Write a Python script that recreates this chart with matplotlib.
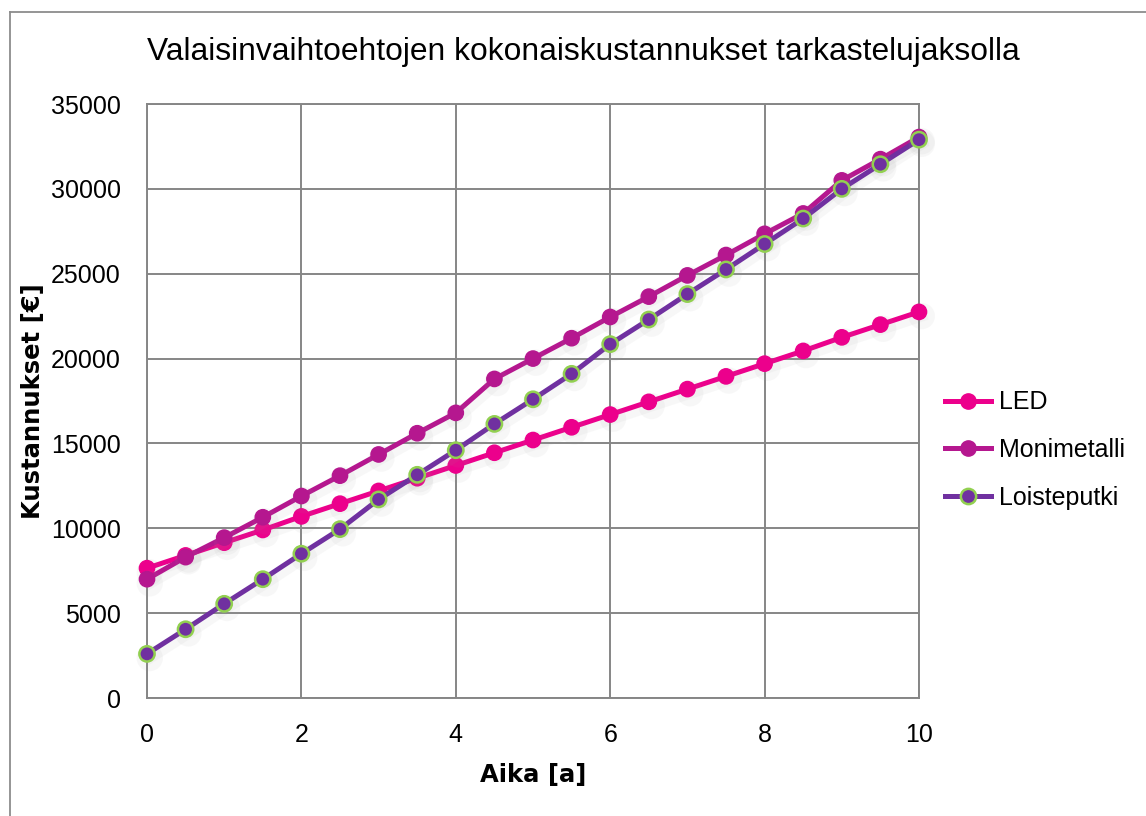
import matplotlib
matplotlib.use("Agg")
import matplotlib.pyplot as plt
import matplotlib.patheffects as pe
from matplotlib.lines import Line2D

plt.rcParams["font.family"] = ["Liberation Sans", "DejaVu Sans"]

# Time in years
aika = [0, 0.5, 1, 1.5, 2, 2.5, 3, 3.5, 4, 4.5, 5, 5.5, 6, 6.5, 7, 7.5, 8, 8.5, 9, 9.5, 10]

# Cumulative costs (EUR) for each luminaire option
led = [7650, 8400, 9150, 9900, 10700, 11450, 12200, 12950, 13700, 14450, 15200,
       15950, 16700, 17450, 18200, 18950, 19700, 20450, 21250, 22000, 22750]
monimetalli = [7000, 8300, 9450, 10650, 11900, 13100, 14350, 15600, 16800, 18800, 20000,
               21200, 22450, 23650, 24900, 26100, 27350, 28550, 30500, 31750, 33050]
loisteputki = [2600, 4050, 5550, 7000, 8500, 9950, 11700, 13150, 14600, 16150, 17600,
               19100, 20850, 22300, 23800, 25250, 26750, 28250, 30000, 31450, 32900]

x_ticks = [0, 2, 4, 6, 8, 10]
y_ticks = [0, 5000, 10000, 15000, 20000, 25000, 30000, 35000]

W, H = 1146, 816
fig = plt.figure(figsize=(W / 100, H / 100), dpi=100)
fig.patch.set_facecolor("white")

ax = fig.add_axes([147 / W, 1 - 698 / H, (919 - 147) / W, (698 - 104) / H])

grid_col = "#868686"
shadow = [pe.SimpleLineShadow(offset=(2, -3), shadow_color="#9a9a9a", alpha=0.07, linewidth=8),
          pe.Normal()]

common = dict(linewidth=3.6, marker="o", markersize=11, path_effects=shadow, clip_on=False)
ax.plot(aika, led, color="#EC008C", markerfacecolor="#EC008C", markeredgecolor="#EC008C",
        zorder=3, **common)
ax.plot(aika, monimetalli, color="#B5178F", markerfacecolor="#B5178F", markeredgecolor="#B5178F",
        zorder=4, **common)
ax.plot(aika, loisteputki, color="#7030A0", markerfacecolor="#7030A0", markeredgecolor="#92D050",
        markeredgewidth=1.8, zorder=5, **common)

ax.set_xlim(0, 10)
ax.set_ylim(0, 35000)
ax.set_xticks(x_ticks)
ax.set_yticks(y_ticks)
ax.grid(True, color=grid_col, linewidth=1.4)
ax.set_axisbelow(True)
for s in ax.spines.values():
    s.set_color(grid_col)
    s.set_linewidth(1.4)
ax.tick_params(length=0, labelsize=18)
ax.tick_params(axis="x", pad=18)
ax.tick_params(axis="y", pad=19)

bold = dict(fontsize=17.5, fontweight="bold", family=["DejaVu Sans"])
ax.set_xlabel("Aika [a]", **bold)
ax.set_ylabel("Kustannukset [€]", **bold)
ax.xaxis.set_label_coords((533 - 147) / (919 - 147), -(763 - 698) / (698 - 104))
ax.yaxis.set_label_coords(-(147 - 45) / (919 - 147), 0.5)
fig.text(583 / W, 1 - 52 / H, "Valaisinvaihtoehtojen kokonaiskustannukset tarkastelujaksolla",
         ha="center", va="center", fontsize=22.9)

handles = [
    Line2D([], [], color="#EC008C", lw=3.6, marker="o", ms=11, mfc="#EC008C", mec="#EC008C"),
    Line2D([], [], color="#B5178F", lw=3.6, marker="o", ms=11, mfc="#B5178F", mec="#B5178F"),
    Line2D([], [], color="#7030A0", lw=3.6, marker="o", ms=11, mfc="#7030A0", mec="#92D050", mew=1.8),
]
fig.legend(handles, ["LED", "Monimetalli", "Loisteputki"], loc="center left",
           bbox_to_anchor=(945 / W, 1 - 450 / H), frameon=False, fontsize=18,
           handlelength=1.85, handletextpad=0.3, labelspacing=0.95, borderpad=0,
           borderaxespad=0)

# Chart area border
fig.add_artist(Line2D([10 / W, 10 / W], [0, 1 - 12 / H], transform=fig.transFigure,
                      color="#8c8c8c", lw=1.3))
fig.add_artist(Line2D([10 / W, 1], [1 - 12 / H, 1 - 12 / H], transform=fig.transFigure,
                      color="#8c8c8c", lw=1.3))

fig.savefig("out.png", dpi=100, facecolor="white")
